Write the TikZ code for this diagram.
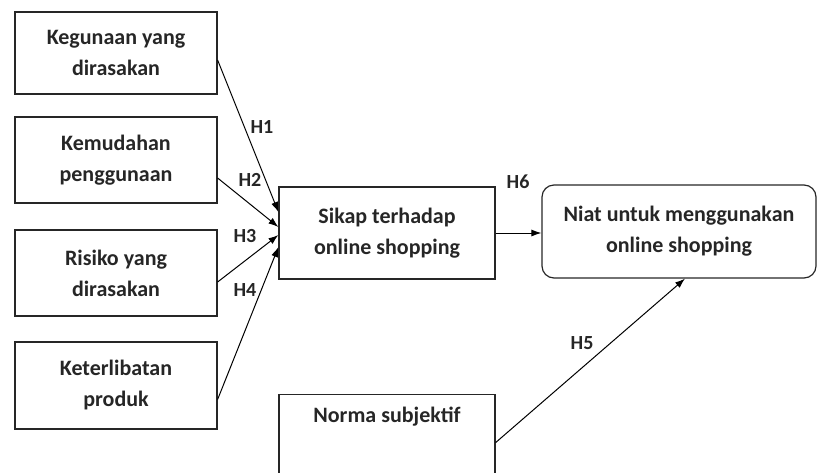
\documentclass[tikz,border=0pt]{standalone}
\usepackage{fontspec}
\setmainfont{Carlito}
\usetikzlibrary{arrows.meta}
\begin{document}
\begin{tikzpicture}[x=1pt, y=-1pt,
        box/.style={draw=black!85, line width=1.2pt, align=center, inner sep=0pt,
            font=\bfseries\fontsize{22}{31}\selectfont, text=black!85},
        hlabel/.style={font=\bfseries\fontsize{20}{24}\selectfont, text=black!85},
        link/.style={-{Latex[length=10pt,width=7pt]}, line width=1pt}]
        \useasboundingbox (0,0) rectangle (818,472);
        \clip (0,0) rectangle (818,472);
        \node[box, minimum width=202pt, minimum height=82pt] (kegunaan) at (116,53) {Kegunaan yang\\dirasakan};
        \node[box, minimum width=202pt, minimum height=86pt] (kemudahan) at (116,160) {Kemudahan\\penggunaan};
        \node[box, minimum width=202pt, minimum height=86pt] (risiko) at (116,273) {Risiko yang\\dirasakan};
        \node[box, minimum width=202pt, minimum height=87pt] (keterlibatan) at (116,385.5) {Keterlibatan\\produk};
        \node[box, minimum width=216pt, minimum height=92pt] (sikap) at (387,233) {Sikap terhadap\\online shopping};
        \node[box, rounded corners=12pt, minimum width=274pt, minimum height=93pt] (niat) at (679,231.5) {Niat untuk menggunakan\\online shopping};
        \node[box, anchor=north, minimum width=216pt, minimum height=100pt, text height=16pt, text depth=60pt] (norma) at (387,394) {Norma subjektif};
        \draw[link] ([yshift=-7pt]kegunaan.east) -- ([yshift=21pt]sikap.west);
        \draw[link] ([yshift=-18pt]kemudahan.east) -- ([yshift=6pt]sikap.west);
        \draw[link] ([yshift=-9pt]risiko.east) -- ([yshift=-2pt]sikap.west);
        \draw[link] ([yshift=-14pt]keterlibatan.east) -- ([yshift=-14pt]sikap.west);
        \draw[link] (sikap.east) -- (sikap.east -| niat.west);
        \draw[link] ([yshift=2pt]norma.east) -- ([xshift=6pt]niat.south);
        \node[hlabel] (h1) at (262,127) {H1};
        \node[hlabel] (h2) at (250,180) {H2};
        \node[hlabel] (h3) at (245,236) {H3};
        \node[hlabel] (h4) at (245,290) {H4};
        \node[hlabel] (h6) at (518,182) {H6};
        \node[hlabel] (h5) at (582,343) {H5};
    \end{tikzpicture}
\end{document}
